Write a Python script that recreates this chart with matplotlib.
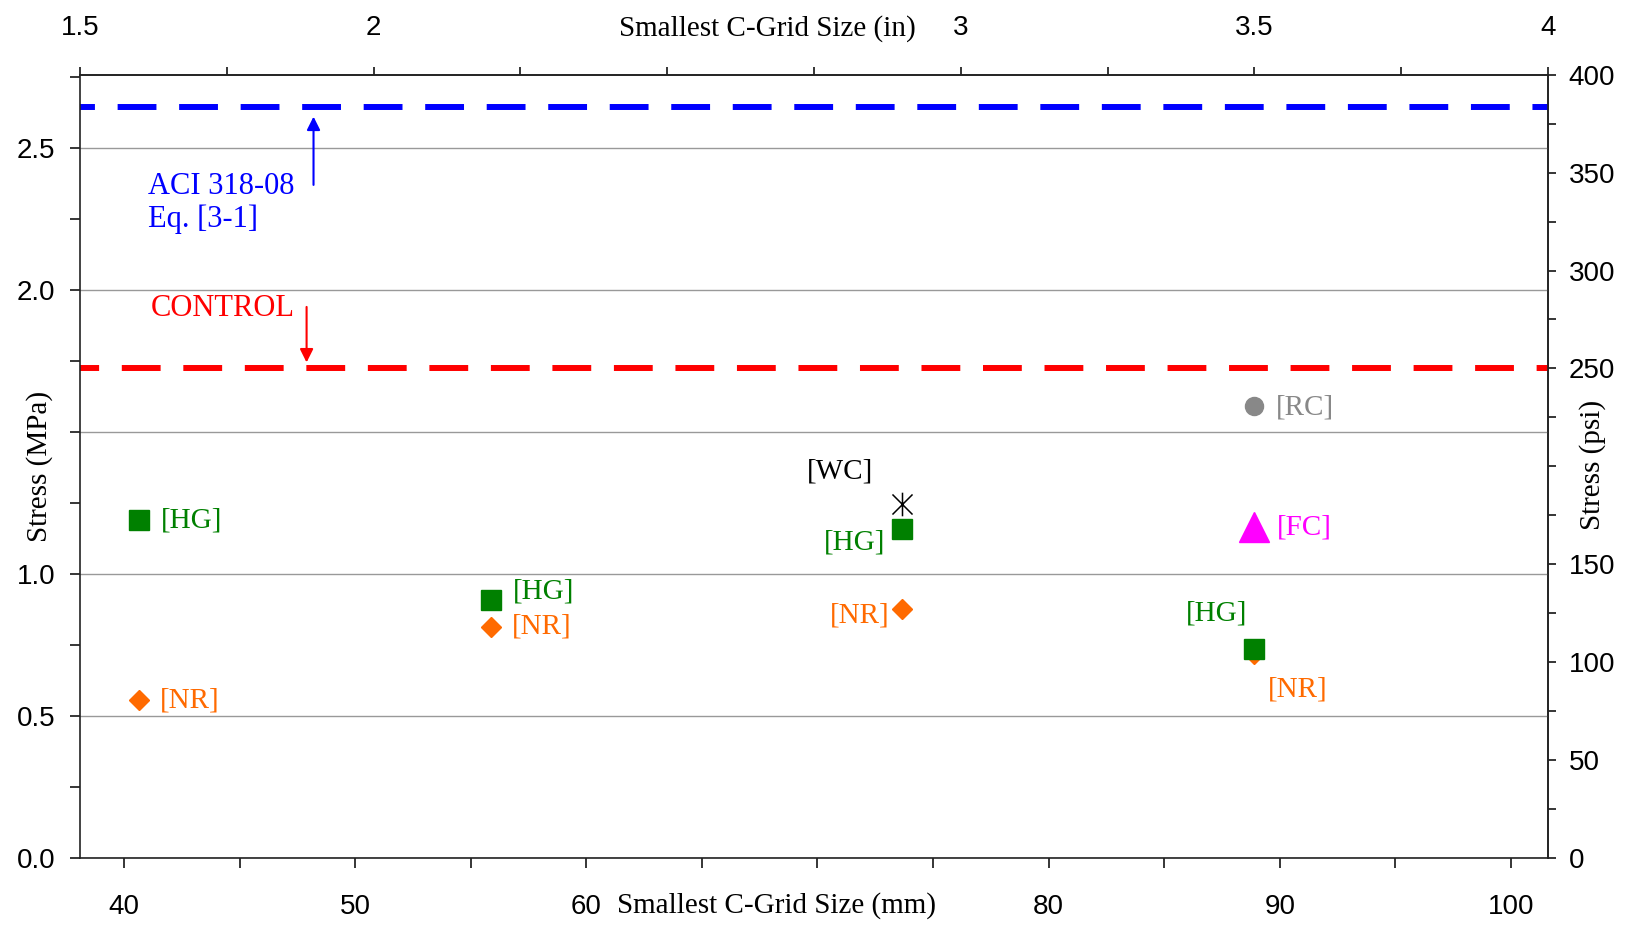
import matplotlib
matplotlib.use("Agg")
import matplotlib.pyplot as plt
from matplotlib.path import Path
from matplotlib.ticker import FixedLocator, FixedFormatter, MultipleLocator

MPA_PER_PSI = 0.006894757
MM_PER_IN = 25.4

# smallest C-grid opening (in) and cracking stress (MPa) per specimen group
hg_size_in = [1.6, 2.2, 2.9, 3.5]
hg_stress = [1.19, 0.91, 1.16, 0.735]
nr_size_in = [1.6, 2.2, 2.9, 3.5]
nr_stress = [0.555, 0.815, 0.875, 0.72]
wc_size_in = [2.9]
wc_stress = [1.245]
rc_size_in = [3.5]
rc_stress = [1.59]
fc_size_in = [3.5]
fc_stress = [1.165]

aci_stress = 2.645      # ACI 318-08 Eq. [3-1], MPa
control_psi = 250       # control specimen, psi

mm_ticks = [40, 50, 60, 70, 80, 90, 100]
mm_labels = ["40", "50", "60", "", "80", "90", "100"]
in_ticks = [1.5, 2.0, 2.5, 3.0, 3.5, 4.0]
in_labels = ["1.5", "2", "", "3", "3.5", "4"]
mpa_ticks = [0.0, 0.5, 1.0, 1.5, 2.0, 2.5]
mpa_labels = ["0.0", "0.5", "1.0", "", "2.0", "2.5"]
psi_ticks = [0, 50, 100, 150, 200, 250, 300, 350, 400]
psi_labels = ["0", "50", "100", "150", "", "250", "300", "350", "400"]

SERIF = "Liberation Serif"
TICKFONT = ["Liberation Sans Narrow", "Liberation Sans", "DejaVu Sans"]
GREEN = "#008000"
ORANGE = "#FF6A00"
GRAY = "#888888"
MAGENTA = "#FF00FF"

fig = plt.figure(figsize=(16.27, 9.30), dpi=100)
ax = fig.add_axes([0.0492, 0.0774, 0.9022, 0.8423])

ax.set_xlim(1.5 * MM_PER_IN, 4.0 * MM_PER_IN)
ax.set_ylim(0, 400 * MPA_PER_PSI)

secx = ax.secondary_xaxis("top", functions=(lambda mm: mm / MM_PER_IN, lambda i: i * MM_PER_IN))
secy = ax.secondary_yaxis("right", functions=(lambda m: m / MPA_PER_PSI, lambda p: p * MPA_PER_PSI))

for a in (ax, secx, secy):
    for s in a.spines.values():
        s.set_linewidth(1.2)
        s.set_color("#222222")

# ticks
ax.xaxis.set_major_locator(FixedLocator(mm_ticks))
ax.xaxis.set_major_formatter(FixedFormatter(mm_labels))
ax.xaxis.set_minor_locator(MultipleLocator(5))
ax.yaxis.set_major_locator(FixedLocator(mpa_ticks))
ax.yaxis.set_major_formatter(FixedFormatter(mpa_labels))
ax.yaxis.set_minor_locator(MultipleLocator(0.25))
ax.tick_params(axis="x", which="both", length=7, width=1.1, pad=19, labelsize=20)
ax.tick_params(axis="y", which="both", length=7, width=1.1, pad=11, labelsize=20)

secx.xaxis.set_major_locator(FixedLocator(in_ticks))
secx.xaxis.set_major_formatter(FixedFormatter(in_labels))
secx.xaxis.set_minor_locator(MultipleLocator(0.25))
secx.tick_params(which="both", length=6, width=1.1, pad=18, labelsize=20)

secy.yaxis.set_major_locator(FixedLocator(psi_ticks))
secy.yaxis.set_major_formatter(FixedFormatter(psi_labels))
secy.yaxis.set_minor_locator(MultipleLocator(25))
secy.tick_params(which="both", length=6, width=1.1, pad=9, labelsize=20)

for lab in (ax.get_xticklabels() + ax.get_yticklabels()
            + secx.get_xticklabels() + secy.get_yticklabels()):
    lab.set_family(TICKFONT)

ax.yaxis.grid(True, color="#999999", lw=1.0)
ax.set_axisbelow(True)

# reference levels
ax.axhline(aci_stress, color="blue", lw=4.3, linestyle=(4, (6.5, 3.8)), zorder=2)
ax.axhline(control_psi * MPA_PER_PSI, color="red", lw=4.3, linestyle=(3.3, (6.5, 3.8)), zorder=2)

ax.annotate("", xy=(48.2, 2.62), xytext=(48.2, 2.36),
            arrowprops=dict(arrowstyle="-|>", color="blue", lw=1.5, mutation_scale=20))
ax.text(41.05, 2.306, "ACI 318-08\nEq. [3-1]", color="blue", family=SERIF,
        fontsize=22, va="center", ha="left", linespacing=1.15)
ax.annotate("", xy=(47.9, 1.735), xytext=(47.9, 1.95),
            arrowprops=dict(arrowstyle="-|>", color="red", lw=1.5, mutation_scale=20))
ax.text(41.15, 1.936, "CONTROL", color="red", family=SERIF, fontsize=22,
        va="center", ha="left")

# specimen groups
def mm(vals):
    return [v * MM_PER_IN for v in vals]

asterisk = Path([(0, -1), (0, 1), (-0.85, -0.85), (0.85, 0.85), (-0.85, 0.85), (0.85, -0.85)],
                [Path.MOVETO, Path.LINETO] * 3)

ax.plot(mm(nr_size_in), nr_stress, "D", color=ORANGE, ms=10.5, mec=ORANGE, ls="none", zorder=3)
ax.plot(mm(hg_size_in), hg_stress, "s", color=GREEN, ms=14, mec=GREEN, ls="none", zorder=4)
ax.plot(mm(wc_size_in), wc_stress, marker=asterisk, color="black", ms=17, mew=1.1,
        ls="none", zorder=4)
ax.plot(mm(rc_size_in), rc_stress, "o", color=GRAY, ms=13, mec=GRAY, ls="none", zorder=4)
ax.plot(mm(fc_size_in), fc_stress, "^", color=MAGENTA, ms=21, mec=MAGENTA, ls="none", zorder=4)

def tag(x_in, y, text, color, dx, dy, ha):
    ax.annotate(text, (x_in * MM_PER_IN, y), xytext=(dx, dy), textcoords="offset points",
                color=color, family=SERIF, fontsize=21, ha=ha, va="center")

hg_offsets = [(16, 0, "left"), (16, 6, "left"), (-12, -10, "right"), (-27, 26, "center")]
nr_offsets = [(15, 0, "left"), (15, 0, "left"), (-9, -4, "right"), (31, -26, "center")]
for x, y, (dx, dy, ha) in zip(hg_size_in, hg_stress, hg_offsets):
    tag(x, y, "[HG]", GREEN, dx, dy, ha)
for x, y, (dx, dy, ha) in zip(nr_size_in, nr_stress, nr_offsets):
    tag(x, y, "[NR]", ORANGE, dx, dy, ha)
tag(wc_size_in[0], wc_stress[0], "[WC]", "black", -21, 24, "right")
tag(rc_size_in[0], rc_stress[0], "[RC]", GRAY, 15.5, -1, "left")
tag(fc_size_in[0], fc_stress[0], "[FC]", MAGENTA, 16, 0, "left")

# axis titles sit in line with the tick labels
fig.text(0.4773, 0.0258, "Smallest C-Grid Size (mm)", family=SERIF, fontsize=21,
         ha="center", va="center")
fig.text(0.4714, 0.969, "Smallest C-Grid Size (in)", family=SERIF, fontsize=21,
         ha="center", va="center")
fig.text(0.0242, 0.498, "Stress (MPa)", family=SERIF, fontsize=21, rotation=90,
         ha="center", va="center")
fig.text(0.979, 0.50, "Stress (psi)", family=SERIF, fontsize=21, rotation=90,
         ha="center", va="center")

fig.savefig("out.png", dpi=100)
